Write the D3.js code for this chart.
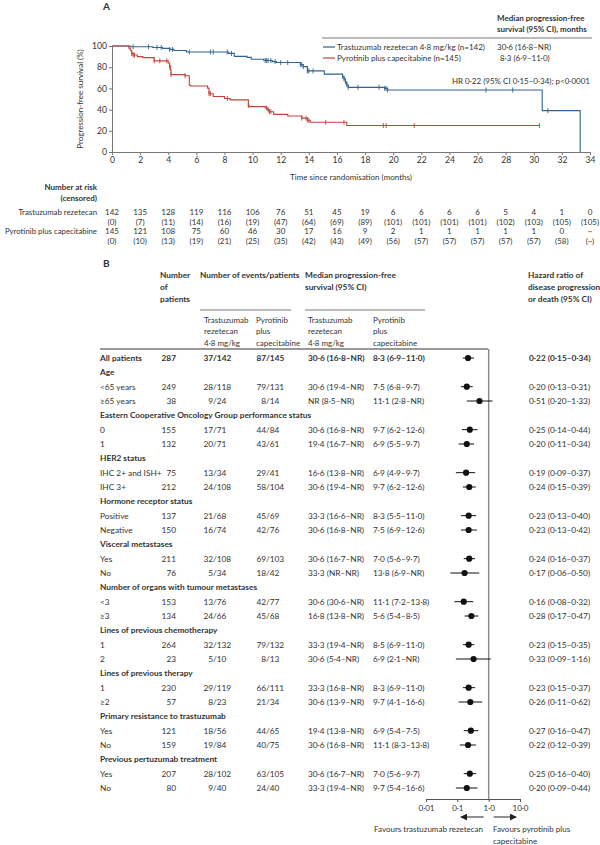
<!DOCTYPE html>
<html><head><meta charset="utf-8">
<script src="https://cdn.jsdelivr.net/npm/d3@7"></script>
<style>
body{margin:0;background:#fff;}
svg text{font-family:Lato,"Open Sans",sans-serif;fill:#333;}
</style></head><body>
<svg id="c" width="600" height="845"></svg>
<script>
// ---------- Panel A data ----------
const monthTicks = d3.range(0, 35, 2);
const survTicks = [0, 20, 40, 60, 80, 100];
const kmTimesT = [0,1.3,2.9,3.6,4.1,4.4,5.3,8.3,8.7,9.6,9.9,10.8,11.4,11.7,13.4,13.6,13.9,15.1,16.4,16.5,16.6,16.7,16.8,19.4,19.6,30.6,33.3];
const kmSurvT  = [100,99.3,98.6,97.8,96.8,95.7,94.4,93,90.2,89.3,87.5,86.3,85.3,84.4,82.5,80.5,76.5,73.5,71.5,69,66.3,63.5,61,60,58.5,39,0];
const kmEndT = 33.3;
const censT = [1.5,2.6,3.2,3.5,4.1,4.3,5.5,7.0,7.2,8.2,8.5,10.9,11.0,11.1,11.3,11.6,12.0,12.5,13.4,13.5,13.6,13.9,14.0,14.3,16.4,16.5,16.6,16.7,16.8,17.5,19.0,19.4,19.5,19.6,26.6,28.5,31.0];
const kmTimesP = [0,1.2,1.3,1.4,1.5,1.8,2.2,3.0,4.0,4.1,4.15,4.2,5.2,5.5,5.6,6.8,6.9,7.2,8.0,8.4,9.7,9.75,10.9,11.1,11.2,11.5,12.5,13.5,13.9,14.1,16.7];
const kmSurvP  = [100,98,96,93,91.5,90,89,86,84,81,77.5,73,72,63,62.3,60.3,55,52.4,50.5,49.2,44,42.8,41.5,39.5,38,35.5,34,32,30,28,25];
const kmEndP = 30.4;
const censP = [1.4,1.5,1.6,3.0,3.4,3.9,4.1,4.2,5.2,6.9,7.0,8.2,9.7,11.0,11.1,11.2,11.3,13.5,13.8,13.9,14.0,15.2,16.5,19.3,19.5,21.5,30.4];

const armNames = ["Trastuzumab rezetecan 4·8 mg/kg (n=142)", "Pyrotinib plus capecitabine (n=145)"];
const armMedians = ["30·6 (16·8–NR)", "8·3 (6·9–11·0)"];
const riskLabels = ["Trastuzumab rezetecan", "Pyrotinib plus capecitabine"];
const riskT = ["142","135","128","119","116","106","76","51","45","19","6","6","6","6","5","4","1","0"];
const censRiskT = ["(0)","(7)","(11)","(14)","(16)","(19)","(47)","(64)","(69)","(89)","(101)","(101)","(101)","(101)","(102)","(103)","(105)","(105)"];
const riskP = ["145","121","108","75","60","46","30","17","16","9","2","1","1","1","1","1","0","··"];
const censRiskP = ["(0)","(10)","(13)","(19)","(21)","(25)","(35)","(42)","(43)","(49)","(56)","(57)","(57)","(57)","(57)","(57)","(58)","(··)"];

// ---------- Panel B data ----------
const rowLabels = ["All patients","Age","<65 years","≥65 years","Eastern Cooperative Oncology Group performance status","0","1","HER2 status","IHC 2+ and ISH+","IHC 3+","Hormone receptor status","Positive","Negative","Visceral metastases","Yes","No","Number of organs with tumour metastases","<3","≥3","Lines of previous chemotherapy","1","2","Lines of previous therapy","1","≥2","Primary resistance to trastuzumab","Yes","No","Previous pertuzumab treatment","Yes","No"];
const nPatients = [287,null,249,38,null,155,132,null,75,212,null,137,150,null,211,76,null,153,134,null,264,23,null,230,57,null,121,159,null,207,80];
const eventsT = ["37/142",null,"28/118","9/24",null,"17/71","20/71",null,"13/34","24/108",null,"21/68","16/74",null,"32/108","5/34",null,"13/76","24/66",null,"32/132","5/10",null,"29/119","8/23",null,"18/56","19/84",null,"28/102","9/40"];
const eventsP = ["87/145",null,"79/131","8/14",null,"44/84","43/61",null,"29/41","58/104",null,"45/69","42/76",null,"69/103","18/42",null,"42/77","45/68",null,"79/132","8/13",null,"66/111","21/34",null,"44/65","40/75",null,"63/105","24/40"];
const medianT = ["30·6 (16·8–NR)",null,"30·6 (19·4–NR)","NR (8·5–NR)",null,"30·6 (16·8–NR)","19·4 (16·7–NR)",null,"16·6 (13·8–NR)","30·6 (19·4–NR)",null,"33·3 (16·6–NR)","30·6 (16·8–NR)",null,"30·6 (16·7–NR)","33·3 (NR–NR)",null,"30·6 (30·6–NR)","16·8 (13·8–NR)",null,"33·3 (19·4–NR)","30·6 (5·4–NR)",null,"33·3 (16·8–NR)","30·6 (13·9–NR)",null,"19·4 (13·8–NR)","30·6 (16·8–NR)",null,"30·6 (16·7–NR)","33·3 (19·4–NR)"];
const medianP = ["8·3 (6·9–11·0)",null,"7·5 (6·8–9·7)","11·1 (2·8–NR)",null,"9·7 (6·2–12·6)","6·9 (5·5–9·7)",null,"6·9 (4·9–9·7)","9·7 (6·2–12·6)",null,"8·3 (5·5–11·0)","7·5 (6·9–12·6)",null,"7·0 (5·6–9·7)","13·8 (6·9–NR)",null,"11·1 (7·2–13·8)","5·6 (5·4–8·5)",null,"8·5 (6·9–11·0)","6·9 (2·1–NR)",null,"8·3 (6·9–11·0)","9·7 (4·1–16·6)",null,"6·9 (5·4–7·5)","11·1 (8·3–13·8)",null,"7·0 (5·6–9·7)","9·7 (5·4–16·6)"];
const hr   = [0.22,null,0.20,0.51,null,0.25,0.20,null,0.19,0.24,null,0.23,0.23,null,0.24,0.17,null,0.16,0.28,null,0.23,0.33,null,0.23,0.26,null,0.27,0.22,null,0.25,0.20];
const hrLo = [0.15,null,0.13,0.20,null,0.14,0.11,null,0.09,0.15,null,0.13,0.13,null,0.16,0.06,null,0.08,0.17,null,0.15,0.09,null,0.15,0.11,null,0.16,0.12,null,0.16,0.09];
const hrHi = [0.34,null,0.31,1.33,null,0.44,0.34,null,0.37,0.39,null,0.40,0.42,null,0.37,0.50,null,0.32,0.47,null,0.35,1.16,null,0.37,0.62,null,0.47,0.39,null,0.40,0.44];
const hrText = ["0·22 (0·15–0·34)",null,"0·20 (0·13–0·31)","0·51 (0·20–1·33)",null,"0·25 (0·14–0·44)","0·20 (0·11–0·34)",null,"0·19 (0·09–0·37)","0·24 (0·15–0·39)",null,"0·23 (0·13–0·40)","0·23 (0·13–0·42)",null,"0·24 (0·16–0·37)","0·17 (0·06–0·50)",null,"0·16 (0·08–0·32)","0·28 (0·17–0·47)",null,"0·23 (0·15–0·35)","0·33 (0·09–1·16)",null,"0·23 (0·15–0·37)","0·26 (0·11–0·62)",null,"0·27 (0·16–0·47)","0·22 (0·12–0·39)",null,"0·25 (0·16–0·40)","0·20 (0·09–0·44)"];
const hrTicks = [0.01, 0.1, 1, 10];
const hrTickLabels = ["0·01","0·1","1·0","10·0"];

// ---------- drawing ----------
const svg = d3.select("#c");
const BLUE = "#2f6590", RED = "#c0443a", GREY = "#777";
const FS = 8.3;

function txt(g, x, y, s, opt = {}) {
  return g.append("text").attr("x", x).attr("y", y).attr("dy", "0.35em")
    .attr("font-size", opt.size || FS).attr("font-weight", opt.bold ? "bold" : null)
    .attr("text-anchor", opt.anchor || "start").text(s);
}

// Panel A
txt(svg, 103, 6, "A", {bold: true, size: 10});
const x = d3.scaleLinear().domain([0, 34]).range([112, 590]);
const y = d3.scaleLinear().domain([0, 100]).range([152, 46]);

const ax = svg.append("g").attr("transform", `translate(0,${y(0)})`)
  .call(d3.axisBottom(x).tickValues(monthTicks).tickSize(3).tickPadding(2).tickFormat(d3.format("d")));
const ay = svg.append("g").attr("transform", `translate(${x(0)},0)`)
  .call(d3.axisLeft(y).tickValues(survTicks).tickSize(3).tickPadding(2));
[ax, ay].forEach(a => {
  a.selectAll("path,line").attr("stroke", GREY);
  a.selectAll("text").attr("font-size", 8.6).attr("font-family", "Lato,sans-serif").attr("fill", "#444");
});
svg.append("text").attr("transform", `translate(83,${(y(0)+y(100))/2}) rotate(-90)`)
  .attr("text-anchor", "middle").attr("font-size", 8).text("Progression-free survival (%)");
txt(svg, (x(0)+x(34))/2, 177, "Time since randomisation (months)", {anchor: "middle", size: 8});

function stepAt(times, surv, t) {
  let v = surv[0];
  for (let i = 0; i < times.length; i++) if (times[i] <= t) v = surv[i];
  return v;
}
function drawKM(times, surv, endT, cens, col) {
  const pts = times.map((t, i) => [t, surv[i]]);
  if (endT > times[times.length - 1]) pts.push([endT, surv[surv.length - 1]]);
  svg.append("path").attr("d", d3.line().x(d => x(d[0])).y(d => y(d[1])).curve(d3.curveStepAfter)(pts))
    .attr("fill", "none").attr("stroke", col).attr("stroke-width", 1.1);
  svg.append("g").selectAll("line").data(cens).join("line")
    .attr("x1", d => x(d)).attr("x2", d => x(d))
    .attr("y1", d => y(stepAt(times, surv, d)) - 2.5).attr("y2", d => y(stepAt(times, surv, d)) + 2.5)
    .attr("stroke", col).attr("stroke-width", 0.9);
}
drawKM(kmTimesT, kmSurvT, kmEndT, censT, BLUE);
drawKM(kmTimesP, kmSurvP, kmEndP, censP, RED);

// legend
txt(svg, 497, 18, "Median progression-free", {bold: true, size: 8});
txt(svg, 497, 29, "survival (95% CI), months", {bold: true, size: 8});
svg.append("line").attr("x1", 322).attr("x2", 592).attr("y1", 38).attr("y2", 38).attr("stroke", "#555").attr("stroke-width", 0.8);
[BLUE, RED].forEach((c, i) => {
  const yy = 47 + i * 11;
  svg.append("line").attr("x1", 323).attr("x2", 335).attr("y1", yy).attr("y2", yy).attr("stroke", c).attr("stroke-width", 1.2);
  txt(svg, 337, yy, armNames[i], {size: 8});
  txt(svg, i === 0 ? 497 : 500, yy, armMedians[i], {size: 8});
});
txt(svg, 590, 81, "HR 0·22 (95% CI 0·15–0·34); p<0·0001", {anchor: "end", size: 8});

// risk table
const RX = 97;
txt(svg, RX, 187, "Number at risk", {bold: true, anchor: "end", size: 8});
txt(svg, RX, 198, "(censored)", {bold: true, anchor: "end", size: 8});
txt(svg, RX, 212, riskLabels[0], {anchor: "end", size: 7.8});
txt(svg, RX, 231, riskLabels[1], {anchor: "end", size: 7.8});
[[riskT, 212], [censRiskT, 222], [riskP, 231], [censRiskP, 241]].forEach(([arr, yy]) => {
  svg.append("g").selectAll("text").data(arr).join("text")
    .attr("x", (d, i) => x(monthTicks[i])).attr("y", yy).attr("dy", "0.35em")
    .attr("text-anchor", "middle").attr("font-size", 8).text(d => d);
});

// Panel B
txt(svg, 103, 263, "B", {bold: true, size: 10});
const hdr = [[160, ["Number", "of", "patients"]], [200, ["Number of events/patients"]],
  [305, ["Median progression-free", "survival (95% CI)"]], [528, ["Hazard ratio of", "disease progression", "or death (95% CI)"]]];
hdr.forEach(([hx, lines]) => lines.forEach((l, i) => txt(svg, hx, 275 + i * 12, l, {bold: true})));
svg.append("line").attr("x1", 200).attr("x2", 291).attr("y1", 310).attr("y2", 310).attr("stroke", "#555").attr("stroke-width", 0.8);
svg.append("line").attr("x1", 305).attr("x2", 425).attr("y1", 310).attr("y2", 310).attr("stroke", "#555").attr("stroke-width", 0.8);
const sub = [[204, ["Trastuzumab", "rezetecan", "4·8 mg/kg"]], [256, ["Pyrotinib", "plus", "capecitabine"]],
  [308, ["Trastuzumab", "rezetecan", "4·8 mg/kg"]], [373, ["Pyrotinib", "plus", "capecitabine"]]];
sub.forEach(([sx, lines]) => lines.forEach((l, i) => txt(svg, sx, 320 + i * 11.5, l, {size: 8})));
svg.append("line").attr("x1", 100).attr("x2", 488).attr("y1", 349).attr("y2", 349).attr("stroke", "#999").attr("stroke-width", 2);

const rowY = d3.scaleLinear().domain([0, rowLabels.length - 1]).range([358, 788]);
const hx = d3.scaleLog().domain([0.01, 10]).range([426, 520]);

rowLabels.forEach((lab, i) => {
  const yy = rowY(i);
  const isHead = nPatients[i] === null;
  const bold = isHead || i === 0;
  txt(svg, 100, yy, lab, {bold});
  if (isHead) return;
  txt(svg, 176, yy, String(nPatients[i]), {anchor: "end", bold});
  [[eventsT[i], 213], [eventsP[i], 266]].forEach(([e, sx]) => {
    const [a, b] = e.split("/");
    txt(svg, sx, yy, a, {anchor: "end", bold});
    txt(svg, sx, yy, "/" + b, {bold});
  });
  txt(svg, 308, yy, medianT[i], {bold});
  txt(svg, 373, yy, medianP[i], {bold});
  txt(svg, 529, yy, hrText[i], {bold});
});

// forest marks
const fr = d3.range(rowLabels.length).filter(i => hr[i] !== null);
svg.append("line").attr("x1", hx(1)).attr("x2", hx(1)).attr("y1", 349).attr("y2", 799).attr("stroke", "#888").attr("stroke-width", 1.4);
svg.append("g").selectAll("line").data(fr).join("line")
  .attr("x1", i => hx(hrLo[i])).attr("x2", i => hx(hrHi[i])).attr("y1", i => rowY(i)).attr("y2", i => rowY(i))
  .attr("stroke", "#111").attr("stroke-width", 1);
svg.append("g").selectAll("circle").data(fr).join("circle")
  .attr("cx", i => hx(hr[i])).attr("cy", i => rowY(i)).attr("r", 3.1).attr("fill", "#111");

const fa = svg.append("g").attr("transform", "translate(0,799)")
  .call(d3.axisBottom(hx).tickValues(hrTicks).tickSize(3).tickPadding(3).tickFormat((d, i) => hrTickLabels[i]));
fa.selectAll("path,line").attr("stroke", "#555");
fa.selectAll("text").attr("font-size", 8).attr("font-family", "Lato,sans-serif").attr("fill", "#333");

// arrows
const defs = svg.append("defs");
defs.append("marker").attr("id", "ah").attr("viewBox", "0 0 10 10").attr("refX", 9).attr("refY", 5)
  .attr("markerWidth", 7).attr("markerHeight", 7).attr("orient", "auto-start-reverse")
  .append("path").attr("d", "M0,0L10,5L0,10Z").attr("fill", "#222");
svg.append("line").attr("x1", hx(1) - 5).attr("x2", hx(0.13)).attr("y1", 817).attr("y2", 817)
  .attr("stroke", "#222").attr("stroke-width", 1).attr("marker-end", "url(#ah)");
svg.append("line").attr("x1", hx(1) + 5).attr("x2", hx(7.5)).attr("y1", 817).attr("y2", 817)
  .attr("stroke", "#222").attr("stroke-width", 1).attr("marker-end", "url(#ah)");
txt(svg, 483, 829, "Favours trastuzumab rezetecan", {anchor: "end", size: 8});
txt(svg, 493, 829, "Favours pyrotinib plus", {size: 8});
txt(svg, 493, 841, "capecitabine", {size: 8});
</script>
</body></html>
